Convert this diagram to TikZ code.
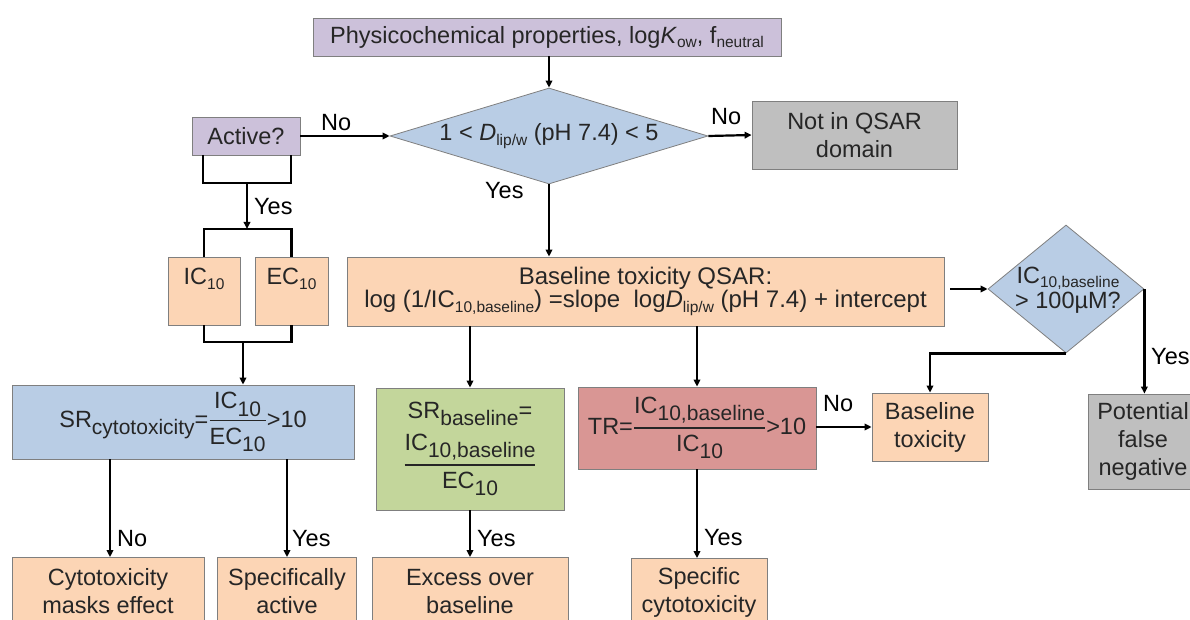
\documentclass[tikz,border=0pt]{standalone}
\usepackage{fontspec}
\setmainfont{Liberation Sans}
\usetikzlibrary{arrows.meta,shapes.geometric}

\definecolor{lav}{HTML}{CCC1DA}
\definecolor{sky}{HTML}{B9CDE5}
\definecolor{peach}{HTML}{FCD5B5}
\definecolor{ash}{HTML}{BFBFBF}
\definecolor{leaf}{HTML}{C3D69B}
\definecolor{rose}{HTML}{D99694}
\definecolor{edge}{HTML}{7F7F7F}
\definecolor{ink}{HTML}{262626}

% small lowered subscript for running text
\newcommand{\lsub}[1]{\raisebox{-0.2em}{\fontsize{15.5}{15.5}\selectfont #1}}
% larger lowered subscript used in the ratio formulas
\newcommand{\bsub}[1]{\raisebox{-0.32em}{\fontsize{21}{21}\selectfont #1}}
% stacked fraction built from text boxes
\newcommand{\fracbox}[2]{$\displaystyle{\hbox{#1}\above 1.3pt\hbox{#2}}$}

\tikzset{
  box/.style={draw=edge, line width=0.8pt, text=ink, align=center, inner sep=0pt,
    font=\fontsize{23.5}{28}\selectfont},
  dia/.style={diamond, draw=edge, line width=0.8pt, fill=sky, inner sep=0pt},
  txt/.style={text=ink, align=center, inner sep=0pt, font=\fontsize{23.5}{28}\selectfont},
  arr/.style={line width=2.2pt, -{Triangle[length=7pt,width=6.5pt]}},
  ln/.style={line width=2.2pt},
  lbl/.style={font=\fontsize{23.5}{26}\selectfont, inner sep=0pt, anchor=west, text=black}
}

\begin{document}
\begin{tikzpicture}[x=1pt,y=-1pt]
\useasboundingbox (0,0) rectangle (1190,620);

% ---- top row ----
\node[box, fill=lav, minimum width=468, minimum height=38] (top) at (547,37)
  {Physicochemical properties, log\textit{K}\lsub{ow}, f\lsub{neutral}};
\node[dia, minimum width=318, minimum height=96] (d1) at (549,136) {};
\node[txt] (d1t) at (d1.center) {1 < \textit{D}\lsub{lip/w} (pH 7.4) < 5};
\node[box, fill=lav, minimum width=108, minimum height=38] (active) at (246,136) {Active?};
\node[box, fill=ash, minimum width=205, minimum height=68] (notq) at (854.5,135)
  {Not in QSAR\\domain};

% ---- middle row ----
\node[box, fill=peach, minimum width=597, minimum height=69, font=\fontsize{24}{23.5}\selectfont] (base) at (645.5,291.5)
  {Baseline toxicity QSAR:\\
   log (1/IC\lsub{10,baseline}) =slope\ \ log\textit{D}\lsub{lip/w} (pH 7.4) + intercept};
\node[dia, minimum width=156, minimum height=128] (d2) at (1066,289) {};
\node[txt, font=\fontsize{23.5}{25}\selectfont] (d2t) at (1068,290)
  {IC\lsub{10,baseline}\\> 100µM?};
\node[box, fill=peach, minimum width=72, minimum height=68] (ic) at (204,291) {};
\node[txt] (ict) at (204,279) {IC\lsub{10}};
\node[box, fill=peach, minimum width=73, minimum height=68] (ec) at (291.5,291) {};
\node[txt] (ect) at (291.5,279) {EC\lsub{10}};

% ---- ratio boxes ----
\node[box, fill=sky, minimum width=342, minimum height=74] (sr) at (183,422)
  {SR\bsub{cytotoxicity}=\fracbox{IC\bsub{10}}{EC\bsub{10}}>10};
\node[box, fill=leaf, minimum width=188, minimum height=122] (srb) at (470,449)
  {SR\bsub{baseline}=\\[7pt]\fracbox{IC\bsub{10,baseline}}{EC\bsub{10}}};
\node[box, fill=rose, minimum width=238, minimum height=82] (tr) at (697,428)
  {TR=\fracbox{IC\bsub{10,baseline}}{IC\bsub{10}}>10};
\node[box, fill=peach, minimum width=116, minimum height=68] (bt) at (930,427)
  {Baseline\\toxicity};
\node[box, fill=ash, minimum width=110, minimum height=95] (pfn) at (1143,441.5)
  {Potential\\false\\negative};

% ---- bottom row ----
\node[box, fill=peach, minimum width=192, minimum height=68] (cme) at (108,591.5)
  {Cytotoxicity\\masks effect};
\node[box, fill=peach, minimum width=139, minimum height=68] (spa) at (287,591.5)
  {Specifically\\active};
\node[box, fill=peach, minimum width=196, minimum height=68] (exb) at (470,591.5)
  {Excess over\\baseline};
\node[box, fill=peach, minimum width=136, minimum height=68] (spc) at (699,592.5)
  {Specific\\cytotoxicity};

% ---- connectors ----
\draw[arr] (top.south -| d1.north) -- (d1.north);
\draw[arr] (active.east) -- (d1.west);
\draw[arr] (d1.east) -- (notq.west);
\draw[arr] (d1.south) -- (d1.south |- base.north);
\draw[arr, shorten <=6pt] (base.east |- d2.west) -- (d2.west);
\draw[arr] (d2.south) -| (bt.north);
\draw[arr] (d2.east) -- (d2.east |- pfn.north);

% active / IC10 / EC10 brackets
\coordinate (joinA) at (247,183);
\coordinate (splitT) at (247,229);
\coordinate (splitB) at (243,342);
\draw[ln] (203,155) -- (203,183) -- (291,183) -- (291,155);
\draw[arr] (joinA) -- (splitT);
\draw[ln] (ic.north) |- (splitT) -| (ec.north);
\draw[ln] (ic.south) |- (splitB) -| (ec.south);
\draw[arr] (splitB) -- (splitB |- sr.north);

\draw[arr] ([xshift=2pt]cme.north |- sr.south) -- ([xshift=2pt]cme.north);
\draw[arr] (spa.north |- sr.south) -- (spa.north);
\draw[arr] (srb.north |- base.south) -- (srb.north);
\draw[arr] (tr.north |- base.south) -- (tr.north);
\draw[arr] (srb.south) -- (srb.south |- exb.north);
\draw[arr] (tr.south) -- (tr.south |- spc.north);
\draw[arr] (tr.east |- bt.west) -- (bt.west);

% ---- branch labels ----
\node[lbl] (l1) at (321,123) {No};
\node[lbl] (l2) at (711,117) {No};
\node[lbl] (l3) at (485,191) {Yes};
\node[lbl] (l4) at (254,207) {Yes};
\node[lbl] (l5) at (1151,357) {Yes};
\node[lbl] (l6) at (823,404) {No};
\node[lbl] (l7) at (117,539) {No};
\node[lbl] (l8) at (292,539) {Yes};
\node[lbl] (l9) at (477,539) {Yes};
\node[lbl] (l10) at (704,538) {Yes};
\end{tikzpicture}
\end{document}
